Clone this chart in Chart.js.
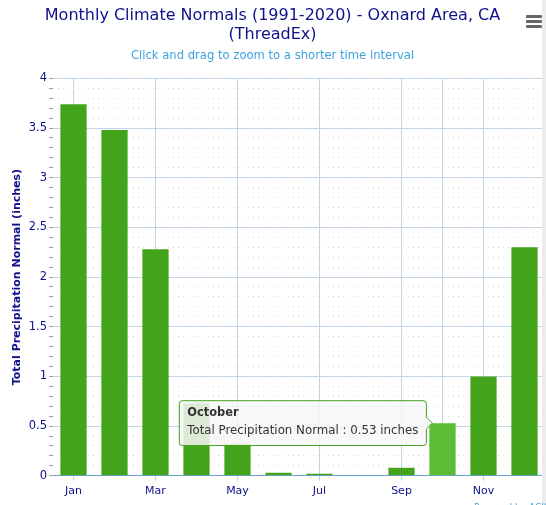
<!DOCTYPE html>
<html>
<head>
<meta charset="utf-8">
<script src="https://cdn.jsdelivr.net/npm/chart.js@4.4.1/dist/chart.umd.min.js"></script>
<style>
  html, body { margin: 0; padding: 0; background: #fff; overflow: hidden; }
  #wrap { position: relative; width: 546px; height: 505px; }
  #menu { position: absolute; left: 526px; top: 15px; width: 16px; }
  #menu div { height: 3px; background: #666; margin-bottom: 2px; border-radius: 1px; }
  #strip { position: absolute; left: 542px; top: 0; width: 4px; height: 505px; background: #ececec; }
  #credits { position: absolute; left: 474px; top: 502px; font: 9px "DejaVu Sans", sans-serif; color: #4aa3df; white-space: nowrap; }
</style>
</head>
<body>
<div id="wrap">
  <canvas id="chart" width="546" height="505"></canvas>
  <div id="strip"></div>
  <div id="menu"><div></div><div></div><div></div></div>
  <div id="credits">Powered by ACIS</div>
</div>
<script>
// Monthly precipitation normals, inches
const months = ["Jan", "Feb", "Mar", "Apr", "May", "Jun", "Jul", "Aug", "Sep", "Oct", "Nov", "Dec"];
const monthNames = ["January", "February", "March", "April", "May", "June", "July", "August", "September", "October", "November", "December"];
const precip = [3.74, 3.48, 2.28, 0.73, 0.32, 0.03, 0.02, 0.00, 0.08, 0.53, 1.00, 2.30];
const hoverIndex = 9;

const navy = "#10108a";
const gridBlue = "#c0d4e8";
const font = "'DejaVu Sans', sans-serif";

Chart.Tooltip.positioners.barSide = function (items) {
  if (!items.length) return false;
  const el = items[0].element;
  return { x: el.x - el.width / 2 + 3, y: el.y, xAlign: "right", yAlign: "center" };
};

const ctx = document.getElementById("chart").getContext("2d");
const chart = new Chart(ctx, {
  type: "bar",
  data: {
    labels: months,
    datasets: [{
      label: "Total Precipitation Normal",
      data: precip,
      backgroundColor: "#43a31b",
      hoverBackgroundColor: "#5bbd34",
      categoryPercentage: 0.8,
      barPercentage: 0.8
    }]
  },
  options: {
    responsive: false,
    animation: false,
    events: [],
    layout: { padding: { left: 0, right: 1, top: 0, bottom: 3 } },
    plugins: {
      legend: { display: false },
      title: {
        display: true,
        text: ["Monthly Climate Normals (1991-2020) - Oxnard Area, CA", "(ThreadEx)"],
        color: navy,
        font: { family: font, size: 16, weight: "normal", lineHeight: 1.2 },
        padding: { top: 6, bottom: 0 }
      },
      subtitle: {
        display: true,
        text: "Click and drag to zoom to a shorter time interval",
        color: "#3ea2e0",
        font: { family: font, size: 11.6, lineHeight: 1.2 },
        padding: { top: 5, bottom: 15 }
      },
      tooltip: {
        enabled: true,
        position: "barSide",
        xAlign: "right",
        yAlign: "center",
        backgroundColor: "rgba(247,247,247,0.85)",
        borderColor: "#43a31b",
        borderWidth: 1,
        cornerRadius: 3,
        caretSize: 6,
        caretPadding: 0,
        displayColors: false,
        titleColor: "#333",
        bodyColor: "#333",
        titleFont: { family: font, size: 11.4, weight: "bold" },
        bodyFont: { family: font, size: 11.8 },
        titleMarginBottom: 4,
        padding: { top: 5, bottom: 8, left: 8, right: 8 },
        callbacks: {
          title: items => monthNames[items[0].dataIndex],
          label: item => "Total Precipitation Normal : " + item.raw.toFixed(2) + " inches"
        }
      }
    },
    scales: {
      x: {
        ticks: {
          autoSkip: false,
          maxRotation: 0,
          color: navy,
          font: { family: font, size: 11 },
          padding: 4,
          callback: (v, i) => (i % 2 === 0 ? months[i] : "")
        },
        grid: {
          offset: false,
          color: c => (c.index % 2 === 0 || c.index === hoverIndex ? gridBlue : "rgba(0,0,0,0)"),
          tickColor: c => (c.index % 2 === 0 ? gridBlue : "rgba(0,0,0,0)"),
          tickLength: 5
        },
        border: { color: "#6aa6da", width: 1 }
      },
      y: {
        position: "left",
        weight: 1,
        min: 0,
        max: 4,
        ticks: {
          stepSize: 0.5,
          color: navy,
          font: { family: font, size: 11.5 },
          padding: 2,
          callback: v => String(+v.toFixed(1))
        },
        grid: { color: gridBlue, drawTicks: false },
        border: { display: false },
        title: {
          display: true,
          text: "Total Precipitation Normal (inches)",
          color: navy,
          font: { family: font, size: 11, weight: "bold" },
          padding: { top: 11, bottom: 0 }
        },
        afterFit: scale => { scale.width = 49; }
      },
      yMinor: {
        position: "left",
        weight: 0,
        min: 0,
        max: 4,
        ticks: { stepSize: 0.1, display: false },
        grid: { color: "#dcdcdc", tickColor: "#a0a0a0", tickLength: 4 },
        border: { display: false, dash: [1, 4] }
      }
    }
  }
});

const active = [{ datasetIndex: 0, index: hoverIndex }];
chart.setActiveElements(active);
chart.tooltip.setActiveElements(active, { x: 0, y: 0 });
chart.update();
</script>
</body>
</html>
